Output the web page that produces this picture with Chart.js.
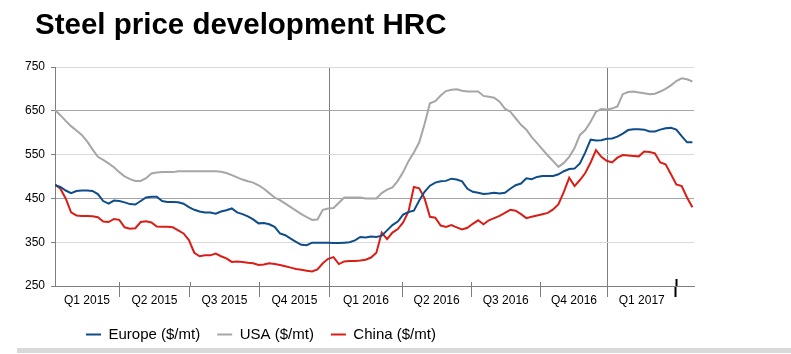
<!DOCTYPE html>
<html>
<head>
<meta charset="utf-8">
<script src="https://cdn.jsdelivr.net/npm/chart.js@4.4.1/dist/chart.umd.min.js"></script>
<style>
  body { margin: 0; background: #fff; }
</style>
</head>
<body>
<canvas id="steel" width="791" height="354"></canvas>
<script>
// weekly HRC prices, Jan 2015 - Mar 2017
const europe = [
  480, 476, 468, 462, 467, 468, 468, 467, 460, 444, 438, 445, 444, 441, 437, 436, 444, 452, 454, 454,
  444, 442, 442, 441, 438, 430, 424, 420, 418, 418, 415, 420, 423, 427, 418, 414, 409, 402, 393, 394,
  391, 385, 370, 366, 358, 351, 344, 343, 349, 349, 349, 349, 348, 348, 349, 350, 354, 362, 361, 363,
  362, 365, 377, 389, 397, 413, 419, 422, 445, 465, 479, 486, 489, 490, 495, 493, 489, 472, 465, 463,
  460, 461, 463, 461, 463, 472, 480, 484, 496, 494, 499, 501, 501, 501, 505, 512, 517, 518, 530, 555,
  584, 582, 583, 586, 587, 591, 598, 606, 608, 608, 607, 603, 603, 607, 610, 611, 607, 592, 578, 578
]
const usa = [
  652, 640, 627, 615, 605, 595, 580, 562, 545, 538, 530, 521, 510, 500, 494, 490, 490, 496, 507, 509,
  510, 510, 510, 512, 512, 512, 512, 512, 512, 512, 512, 511, 508, 503, 498, 493, 489, 486, 480, 472,
  462, 452, 446, 438, 430, 422, 414, 407, 401, 402, 424, 427, 428, 440, 452, 452, 452, 452, 450, 450,
  450, 462, 470, 475, 490, 510, 535, 555, 578, 620, 667, 672, 685, 695, 698, 699, 696, 694, 694, 694,
  684, 682, 680, 671, 655, 648, 633, 618, 607, 590, 576, 562, 548, 535, 522, 531, 545, 565, 595, 606,
  625, 648, 654, 653, 655, 660, 688, 693, 694, 692, 690, 688, 689, 694, 700, 708, 718, 724, 722, 717
]
const china = [
  482, 472, 450, 418, 411, 410, 410, 409, 407, 397, 396, 403, 401, 384, 381, 382, 396, 398, 395, 386,
  385, 385, 384, 377, 370, 355, 326, 318, 320, 320, 324, 318, 313, 305, 306, 305, 303, 302, 298, 299,
  302, 300, 298, 295, 292, 289, 287, 285, 283, 288, 302, 312, 316, 300, 306, 307, 307, 308, 310, 315,
  326, 372, 357, 372, 380, 395, 420, 476, 473, 450, 408, 406, 388, 385, 389, 384, 379, 383, 392, 400,
  391, 400, 405, 410, 417, 424, 422, 414, 405, 408, 411, 414, 417, 425, 437, 465, 497, 478, 492, 508,
  532, 560, 545, 536, 532, 543, 549, 548, 547, 546, 557, 556, 553, 532, 528, 505, 482, 478, 452, 430
]

const quarterLabels = ['Q1 2015', 'Q2 2015', 'Q3 2015', 'Q4 2015', 'Q1 2016', 'Q2 2016', 'Q3 2016', 'Q4 2016', 'Q1 2017']
// quarter edges in weeks from the first observation
const quarterEdges = [0, 11.95, 25.2, 38.1, 51.3, 64.8, 77.7, 90.6, 103.2, 115.9]
const yearEdges = [51.3, 103.2]
const lastWeek = 119.3

const titleText = 'Steel price development HRC'

Chart.defaults.font.family = 'Arial, "Liberation Sans", sans-serif'
Chart.defaults.color = '#000'

const toPoints = arr => arr.map( ( v, i ) => ( { x: i, y: v } ) )
const lastEdge = quarterEdges[quarterEdges.length - 1]

const frame = {
  id: 'frame',
  afterLayout( chart ) {
    // legend sits under the plot's left part, not centred on the canvas
    chart.legend.left = 86 - chart.legend.options.labels.padding
    chart.legend.top += 2
    chart.legend.bottom += 2
  },
  afterDraw( chart ) {
    const c = chart.ctx
    const x = chart.scales.x
    const base = chart.chartArea.bottom
    c.save()
    // quarter ticks poke a little above the axis line
    quarterEdges.slice( 1 ).forEach( e => {
      if ( yearEdges.includes( e ) ) return
      const px = Math.round( x.getPixelForValue( e ) ) + 0.5
      c.strokeStyle = e === lastEdge ? '#000' : '#7f7f7f'
      c.lineWidth = e === lastEdge ? 2 : 1
      c.beginPath()
      c.moveTo( px, base - ( e === lastEdge ? 7 : 4 ) )
      c.lineTo( px, base )
      c.stroke()
    } )
    c.font = 'bold 29.5px Arial, "Liberation Sans", sans-serif'
    c.fillStyle = '#000'
    c.textBaseline = 'alphabetic'
    c.fillText( titleText, 35, 34 )
    c.fillStyle = '#d9d9d9'
    c.fillRect( 17, 348, chart.width - 17, 5 )
    c.restore()
  }
}

const isEdge = ctx => ctx.tick && ctx.tick.kind === 'edge'
const isLastEdge = ctx => isEdge( ctx ) && ctx.tick.value === lastEdge

const config = {
  type: 'line',
  data: {
    datasets: [
      { label: 'Europe ($/mt)', data: toPoints( europe ), borderColor: '#0f4c8a', backgroundColor: '#0f4c8a' },
      { label: 'USA ($/mt)', data: toPoints( usa ), borderColor: '#a6a6a6', backgroundColor: '#a6a6a6' },
      { label: 'China ($/mt)', data: toPoints( china ), borderColor: '#d91e18', backgroundColor: '#d91e18' }
    ]
  },
  options: {
    responsive: false,
    animation: false,
    layout: { padding: { top: 67, left: 10, right: 97, bottom: 4 } },
    elements: {
      line: { borderWidth: 2, tension: 0 },
      point: { radius: 0 }
    },
    scales: {
      x: {
        type: 'linear',
        min: 0,
        max: lastWeek,
        afterBuildTicks( scale ) {
          const ticks = []
          for ( let i = 1; i < quarterEdges.length; i++ ) ticks.push( { value: quarterEdges[i], kind: 'edge' } )
          quarterLabels.forEach( ( name, i ) => {
            ticks.push( { value: ( quarterEdges[i] + quarterEdges[i + 1] ) / 2, kind: 'label', name } )
          } )
          ticks.sort( ( a, b ) => a.value - b.value )
          scale.ticks = ticks
        },
        afterFit( scale ) { scale.height = 22 },
        ticks: {
          autoSkip: false,
          maxRotation: 0,
          padding: -4,
          font: { size: 12 },
          callback: ( v, i, ticks ) => ticks[i].name || ''
        },
        grid: {
          color: ctx => ctx.tick && yearEdges.includes( ctx.tick.value ) ? '#7f7f7f' : 'transparent',
          tickColor: ctx => isLastEdge( ctx ) ? '#000' : isEdge( ctx ) ? '#7f7f7f' : 'transparent',
          tickWidth: ctx => isLastEdge( ctx ) ? 2 : 1,
          tickLength: 11
        },
        border: { color: '#7f7f7f' }
      },
      y: {
        min: 250,
        max: 750,
        afterFit( scale ) { scale.width = 45 },
        ticks: { stepSize: 100, padding: 6, font: { size: 12 } },
        grid: {
          color: ctx => ctx.tick && ( ctx.tick.value === 650 || ctx.tick.value === 450 ) ? '#a6a6a6' : '#d9d9d9',
          tickColor: '#7f7f7f',
          tickLength: 4
        },
        border: { color: '#7f7f7f' }
      }
    },
    plugins: {
      title: { display: false },
      tooltip: { enabled: false },
      legend: {
        position: 'bottom',
        align: 'start',
        labels: {
          boxWidth: 15,
          boxHeight: 2,
          padding: 17,
          font: { size: 15 },
          color: '#000',
          generateLabels: chart => Chart.defaults.plugins.legend.labels.generateLabels( chart )
            .map( l => Object.assign( l, { lineWidth: 0, fillStyle: l.strokeStyle } ) )
        }
      }
    }
  },
  plugins: [ frame ]
}

const graph = new Chart( document.getElementById( 'steel' ), config )
</script>
</body>
</html>
